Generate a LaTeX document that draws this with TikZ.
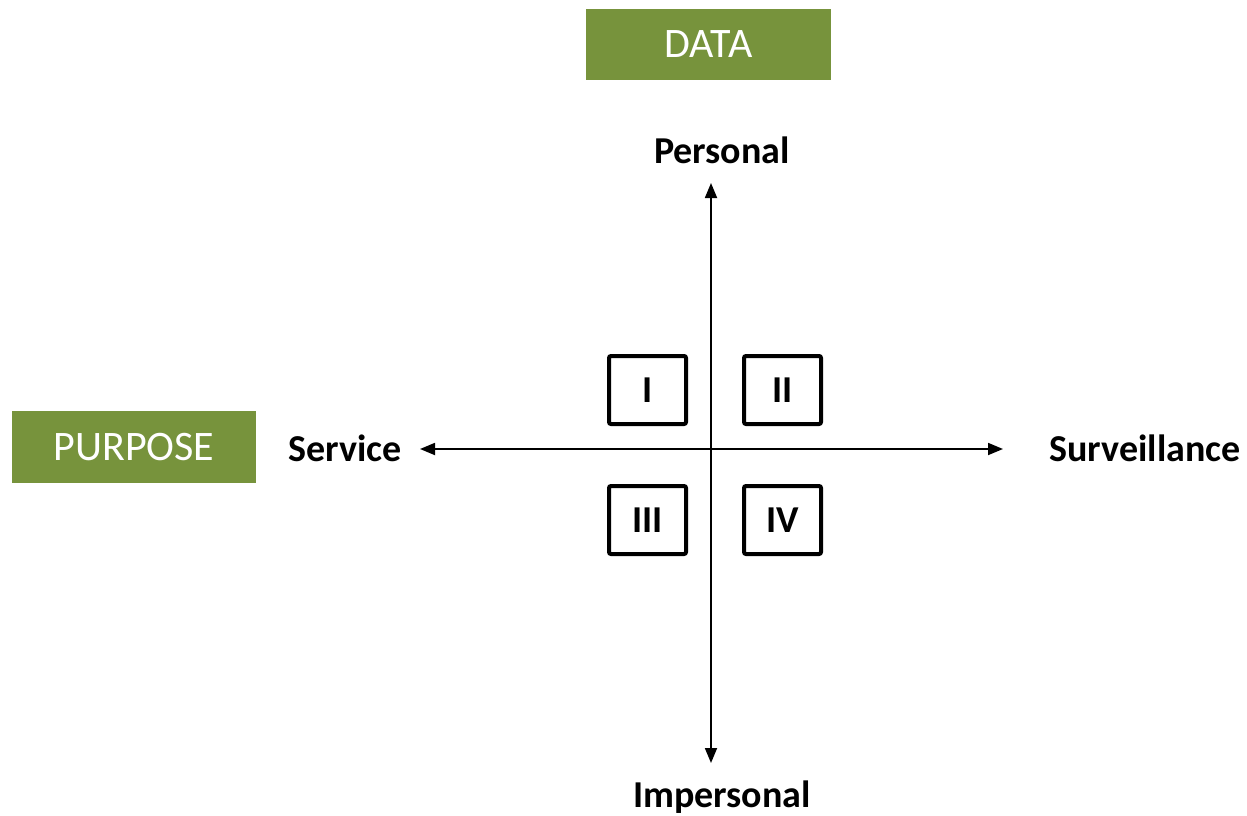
\documentclass[tikz,border=0pt]{standalone}
\usepackage{fontspec}
\setmainfont{Carlito}
\usetikzlibrary{arrows.meta}
\definecolor{olive}{HTML}{77933C}
\tikzset{
  greenbox/.style={rectangle, fill=olive, text=white, inner sep=0pt, font=\fontsize{42}{46}\selectfont},
  axislabel/.style={inner sep=0pt, font=\fontsize{38}{42}\selectfont\bfseries},
  quad/.style={rectangle, draw=black, line width=4pt, rounded corners=2pt, minimum width=77pt, minimum height=68pt, inner sep=0pt, font=\fontsize{38}{42}\selectfont\bfseries},
  axis/.style={line width=1.8pt, {Triangle[length=15pt,width=12pt]}-{Triangle[length=15pt,width=12pt]}}
}
\begin{document}
\begin{tikzpicture}[x=1pt,y=-1pt]
\useasboundingbox (0,0) rectangle (1247,816);
\node[greenbox, minimum width=245pt, minimum height=71pt] (data) at (708.5,44.5) {DATA};
\node[greenbox, minimum width=244pt, minimum height=72pt] (purpose) at (134,447) {PURPOSE};
\node[axislabel] (personal) at (722,150) {Personal};
\node[axislabel] (impersonal) at (722,797) {Impersonal};
\node[axislabel] (service) at (345,448) {Service};
\node[axislabel] (surveillance) at (1145,448) {Surveillance};
\coordinate (top) at (711,183);
\coordinate (bottom) at (711,763);
\coordinate (left) at (420,449);
\coordinate (right) at (1003,449);
\draw[axis] (top) -- (bottom);
\draw[axis] (left) -- (right);
\node[quad] (q1) at (647.5,390) {I};
\node[quad] (q2) at (782.5,390) {II};
\node[quad] (q3) at (647.5,520) {III};
\node[quad] (q4) at (782.5,520) {IV};
\end{tikzpicture}
\end{document}
